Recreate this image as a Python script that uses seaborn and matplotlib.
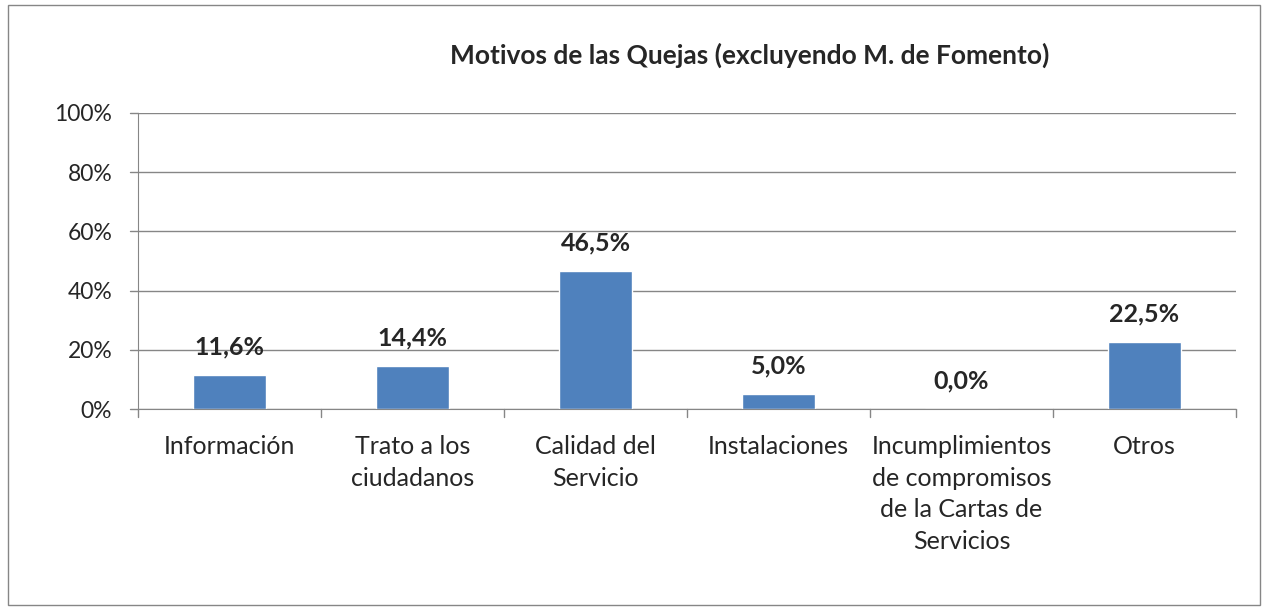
import pandas as pd
import matplotlib.pyplot as plt
import seaborn as sns
from matplotlib.patches import Rectangle

categorias = ['Información', 'Trato a los\nciudadanos', 'Calidad del\nServicio', 'Instalaciones',
              'Incumplimientos\nde compromisos\nde la Cartas de\nServicios', 'Otros']
porcentajes = [11.6, 14.4, 46.5, 5.0, 0.0, 22.5]
etiquetas = ['11,6%', '14,4%', '46,5%', '5,0%', '0,0%', '22,5%']
yticks = [0, 20, 40, 60, 80, 100]

sns.set_style('white')
plt.rcParams['font.family'] = ['Lato', 'DejaVu Sans']

df = pd.DataFrame({'cat': categorias, 'pct': porcentajes})

fig = plt.figure(figsize=(12.69, 6.10), dpi=100)
ax = fig.add_axes([138/1269, 1-409/610, (1236-138)/1269, (409-113)/610])
sns.barplot(data=df, x='cat', y='pct', color='#4F81BD', width=0.4, saturation=1, ax=ax)

ax.set_ylim(0, 100)
ax.set_xlim(-0.5, len(categorias)-0.5)
ax.set_yticks(yticks)
ax.set_yticklabels([f'{t}%' for t in yticks], fontsize=16.5)
ax.yaxis.grid(True, color='#868686', linewidth=1)
ax.set_axisbelow(True)
ax.set_xlabel('')
ax.set_ylabel('')
ax.set_xticks(range(len(categorias)))
ax.set_xticklabels(categorias, fontsize=18, linespacing=1.45, va='top')
ax.tick_params(axis='x', length=0, pad=19)
ax.tick_params(axis='y', length=0, pad=18.5)
for s in ['top', 'right']:
    ax.spines[s].set_visible(False)
for s in ['left', 'bottom']:
    ax.spines[s].set_color('#868686')
# ticks on category boundaries
for b in [i-0.5 for i in range(len(categorias)+1)]:
    ax.plot([b, b], [0, -2.7], color='#868686', lw=1, clip_on=False)
for t in yticks:
    ax.plot([-0.5-0.045, -0.5], [t, t], color='#868686', lw=1, clip_on=False)

for i, (v, lab) in enumerate(zip(porcentajes, etiquetas)):
    ax.text(i, v + 9.5, lab, ha='center', va='center', fontsize=18, fontweight='bold')

fig.text(750/1269, 1-55/610, 'Motivos de las Quejas (excluyendo M. de Fomento)',
         ha='center', va='center', fontsize=19, fontweight='bold')
fig.patches.append(Rectangle((8/1269, 5/610), 1252/1269, 600/610, transform=fig.transFigure,
                             fill=False, edgecolor='#868686', lw=1))

fig.savefig('out.png', dpi=100)
